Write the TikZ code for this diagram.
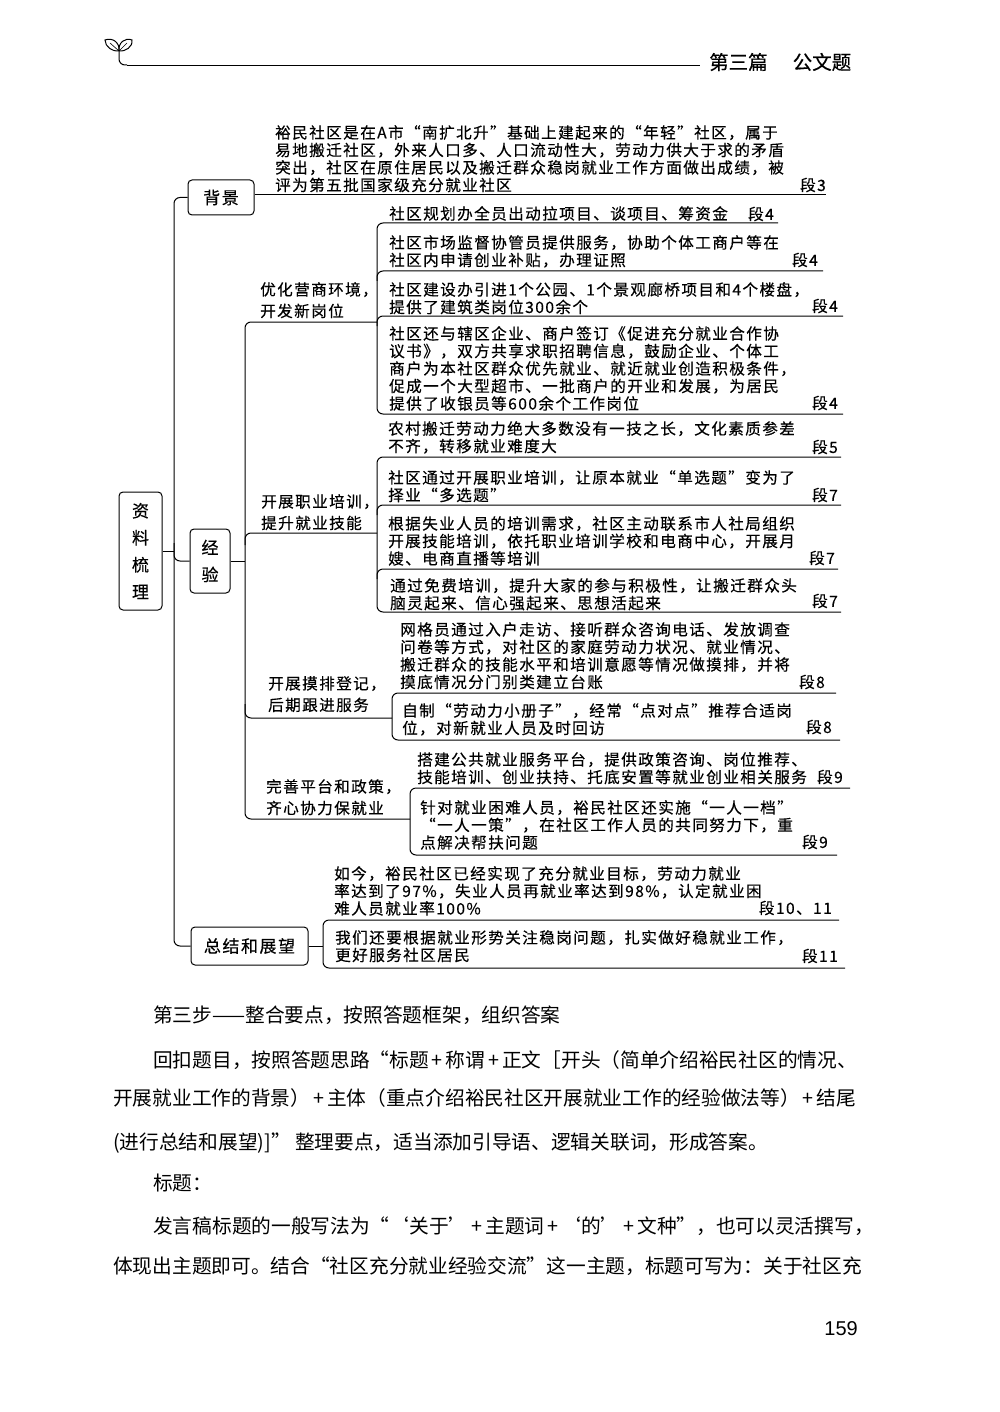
\documentclass[tikz,border=0pt]{standalone}
\usepackage{fontspec}
\setmainfont{Noto Sans CJK SC}
\newfontfamily\mapfont[LetterSpace=9,FakeBold=0.35]{Noto Sans CJK SC}
\newfontfamily\headfont[FakeBold=0.5]{Noto Sans CJK SC}
\newfontfamily\pagefont{Liberation Sans}
\usetikzlibrary{calc}
\newcommand{\plusgap}{\hspace{3pt}+\hspace{3pt}}
\tikzset{
  mapbox/.style={draw, line width=1pt, rounded corners=4pt, inner sep=0pt, align=center, font=\mapfont\fontsize{17}{27}\selectfont},
  leaftext/.style={anchor=north west, inner sep=0pt, yshift=1pt, align=left, font=\mapfont\fontsize{15.6}{17.5}\selectfont},
  branchtext/.style={anchor=north west, inner sep=0pt, yshift=1pt, align=left, font=\mapfont\fontsize{15.6}{21.5}\selectfont},
  seglabel/.style={anchor=east, inner sep=0pt, font=\mapfont\fontsize{15.6}{17}\selectfont},
  bodytext/.style={anchor=west, inner sep=0pt, font=\fontsize{19.7}{22}\selectfont},
  railline/.style={line width=1pt, rounded corners=6pt},
  underrule/.style={line width=1pt}
}
\begin{document}
\begin{tikzpicture}[x=1pt,y=-1pt]
\useasboundingbox[fill=white] (0,0) rectangle (1000,1412);
\coordinate (H_1) at (119,51);
\coordinate (H_2) at (127,65);
\coordinate (H_3) at (700,65);
\draw[line width=1pt] (H_1) .. controls (113,52) and (105,47) .. (105,40) .. controls (113,37) and (120,43) .. (H_1);
\draw[line width=1pt] (H_1) .. controls (125,52) and (133,47) .. (132,40) .. controls (125,37) and (118,43) .. (H_1);
\draw[line width=.6pt] (H_1) -- (110,43) (H_1) -- (127,43);
\draw[line width=1pt, rounded corners=6pt] (H_1) -- (119,65) -- (H_2);
\draw[line width=.8pt] (H_2) -- (H_3);
\node[anchor=west, inner sep=0pt, font=\headfont\fontsize{19.5}{21}\selectfont] (title) at (709,62) {第三篇\hspace{25pt}公文题};

\node[mapbox, minimum width=43pt, minimum height=118pt] (ziliao) at (140.5,551) {资\\料\\梳\\理};
\node[mapbox, minimum width=66pt, minimum height=35pt] (beijing) at (221,197.5) {背景};
\node[mapbox, minimum width=40pt, minimum height=64pt] (jingyan) at (210,561) {经\\验};
\node[mapbox, minimum width=117pt, minimum height=38pt] (zongjie) at (249.5,946) {总结和展望};

\coordinate (M_1) at (174,197.5);
\coordinate (M_2) at (174,946);
\coordinate (R_1) at (174,551);
\coordinate (R_2) at (174,543);
\draw[railline] (beijing.west) -- (M_1) -- (M_2) -- (zongjie.west);
\draw[railline] (ziliao.east) -- (R_1);
\draw[railline] (R_2) |- (jingyan.west);

\coordinate (S_0) at (245,561);
\coordinate (S_1) at (377,322);
\coordinate (S_2) at (245,322);
\coordinate (S_3) at (245,819);
\coordinate (S_4) at (410,819);
\coordinate (S_5) at (245,545);
\coordinate (S_6) at (377,533);
\coordinate (S_7) at (245,704);
\coordinate (S_8) at (392,718);
\draw[railline] (jingyan.east) -- (S_0);
\draw[railline] (S_1) -- (S_2) -- (S_3) -- (S_4);
\draw[railline] (S_5) |- (S_6);
\draw[railline] (S_7) |- (S_8);

\coordinate (B_1) at (826,195);
\draw[underrule] (beijing.east |- B_1) -- (B_1);

\coordinate (A_1) at (778,223);
\coordinate (A_2) at (377,223);
\coordinate (A_3) at (377,414);
\coordinate (A_4) at (843,414);
\coordinate (A_5) at (377,281);
\coordinate (A_6) at (823,271);
\coordinate (A_7) at (377,326);
\coordinate (A_8) at (843,316);
\draw[railline] (A_1) -- (A_2) -- (A_3) -- (A_4);
\draw[railline] (A_5) |- (A_6);
\draw[railline] (A_7) |- (A_8);

\coordinate (C_1) at (841,457);
\coordinate (C_2) at (377,457);
\coordinate (C_3) at (377,612);
\coordinate (C_4) at (841,612);
\coordinate (C_5) at (377,515);
\coordinate (C_6) at (841,505);
\coordinate (C_7) at (377,579);
\coordinate (C_8) at (838,569);
\draw[railline] (C_1) -- (C_2) -- (C_3) -- (C_4);
\draw[railline] (C_5) |- (C_6);
\draw[railline] (C_7) |- (C_8);

\coordinate (D_1) at (836,693);
\coordinate (D_2) at (392,693);
\coordinate (D_3) at (392,740);
\coordinate (D_4) at (840,740);
\draw[railline] (D_1) -- (D_2) -- (D_3) -- (D_4);

\coordinate (E_1) at (850,788);
\coordinate (E_2) at (410,788);
\coordinate (E_3) at (410,855);
\coordinate (E_4) at (837,855);
\draw[railline] (E_1) -- (E_2) -- (E_3) -- (E_4);

\coordinate (F_1) at (839,920);
\coordinate (F_2) at (323,920);
\coordinate (F_3) at (323,968);
\coordinate (F_4) at (845,968);
\draw[railline] (F_1) -- (F_2) -- (F_3) -- (F_4);
\draw[railline] (zongjie.east) -- (F_2 |- zongjie.east);

\node[leaftext] (bg) at (275,126) {裕民社区是在A市“南扩北升”基础上建起来的“年轻”社区，属于\\易地搬迁社区，外来人口多、人口流动性大，劳动力供大于求的矛盾\\突出，社区在原住居民以及搬迁群众稳岗就业工作方面做出成绩，被\\评为第五批国家级充分就业社区};
\node[seglabel] (bgseg) at (826,185) {段3};

\node[branchtext] (youhua) at (260,283) {优化营商环境，\\开发新岗位};
\node[leaftext] (yh_1) at (389,207) {社区规划办全员出动拉项目、谈项目、筹资金};
\node[seglabel] (yhseg_1) at (774,214) {段4};
\node[leaftext] (yh_2) at (389,236) {社区市场监督协管员提供服务，协助个体工商户等在\\社区内申请创业补贴，办理证照};
\node[seglabel] (yhseg_2) at (818,260) {段4};
\node[leaftext] (yh_3) at (389,283) {社区建设办引进1个公园、1个景观廊桥项目和4个楼盘，\\提供了建筑类岗位300余个};
\node[seglabel] (yhseg_3) at (838,306) {段4};
\node[leaftext] (yh_4) at (389,327) {社区还与辖区企业、商户签订《促进充分就业合作协\\议书》，双方共享求职招聘信息，鼓励企业、个体工\\商户为本社区群众优先就业、就近就业创造积极条件，\\促成一个大型超市、一批商户的开业和发展，为居民\\提供了收银员等600余个工作岗位};
\node[seglabel] (yhseg_4) at (838,403) {段4};

\node[branchtext] (peixun) at (261,495) {开展职业培训，\\提升就业技能};
\node[leaftext] (px_1) at (388,422) {农村搬迁劳动力绝大多数没有一技之长，文化素质参差\\不齐，转移就业难度大};
\node[seglabel] (pxseg_1) at (838,447) {段5};
\node[leaftext] (px_2) at (388,471) {社区通过开展职业培训，让原本就业“单选题”变为了\\择业“多选题”};
\node[seglabel] (pxseg_2) at (838,495) {段7};
\node[leaftext] (px_3) at (388,517) {根据失业人员的培训需求，社区主动联系市人社局组织\\开展技能培训，依托职业培训学校和电商中心，开展月\\嫂、电商直播等培训};
\node[seglabel] (pxseg_3) at (835,558) {段7};
\node[leaftext] (px_4) at (390,579) {通过免费培训，提升大家的参与积极性，让搬迁群众头\\脑灵起来、信心强起来、思想活起来};
\node[seglabel] (pxseg_4) at (838,601) {段7};

\node[branchtext] (mopai) at (268,677) {开展摸排登记，\\后期跟进服务};
\node[leaftext] (mp_1) at (400,623) {网格员通过入户走访、接听群众咨询电话、发放调查\\问卷等方式，对社区的家庭劳动力状况、就业情况、\\搬迁群众的技能水平和培训意愿等情况做摸排，并将\\摸底情况分门别类建立台账};
\node[seglabel] (mpseg_1) at (825,682) {段8};
\node[leaftext] (mp_2) at (402,704) {自制“劳动力小册子”，经常“点对点”推荐合适岗\\位，对新就业人员及时回访};
\node[seglabel] (mpseg_2) at (832,727) {段8};

\node[branchtext] (pingtai) at (266,780) {完善平台和政策，\\齐心协力保就业};
\node[leaftext] (pt_1) at (417,753) {搭建公共就业服务平台，提供政策咨询、岗位推荐、\\技能培训、创业扶持、托底安置等就业创业相关服务};
\node[seglabel] (ptseg_1) at (843,777) {段9};
\node[leaftext] (pt_2) at (420,801) {针对就业困难人员，裕民社区还实施“一人一档”\\“一人一策”，在社区工作人员的共同努力下，重\\点解决帮扶问题};
\node[seglabel] (ptseg_2) at (828,842) {段9};

\node[leaftext] (zj_1) at (334,867) {如今，裕民社区已经实现了充分就业目标，劳动力就业\\率达到了97\%，失业人员再就业率达到98\%，认定就业困\\难人员就业率100\%};
\node[seglabel] (zjseg_1) at (832,908) {段10、11};
\node[leaftext] (zj_2) at (335,931) {我们还要根据就业形势关注稳岗问题，扎实做好稳就业工作，\\更好服务社区居民};
\node[seglabel] (zjseg_2) at (838,956) {段11};

\node[bodytext] (step) at (153,1015) {第三步——整合要点，按照答题框架，组织答案};
\node[bodytext] (line_1) at (153,1060) {回扣题目，按照答题思路“标题\plusgap 称谓\plusgap 正文［开头（简单介绍裕民社区的情况、};
\node[bodytext] (line_2) at (113,1098) {开展就业工作的背景）\plusgap 主体（重点介绍裕民社区开展就业工作的经验做法等）\plusgap 结尾};
\node[bodytext] (line_3) at (113,1143) {(进行总结和展望)]” 整理要点，适当添加引导语、逻辑关联词，形成答案。};
\node[bodytext] (line_4) at (153,1183) {标题：};
\node[bodytext] (line_5) at (153,1226) {发言稿标题的一般写法为“‘关于’\plusgap 主题词\plusgap ‘的’\plusgap 文种”，也可以灵活撰写，};
\node[bodytext] (line_6) at (113,1266) {体现出主题即可。结合“社区充分就业经验交流”这一主题，标题可写为：关于社区充};
\node[anchor=east, inner sep=0pt, font=\pagefont\fontsize{20}{22}\selectfont] (pagenum) at (858,1329) {159};
\end{tikzpicture}
\end{document}
